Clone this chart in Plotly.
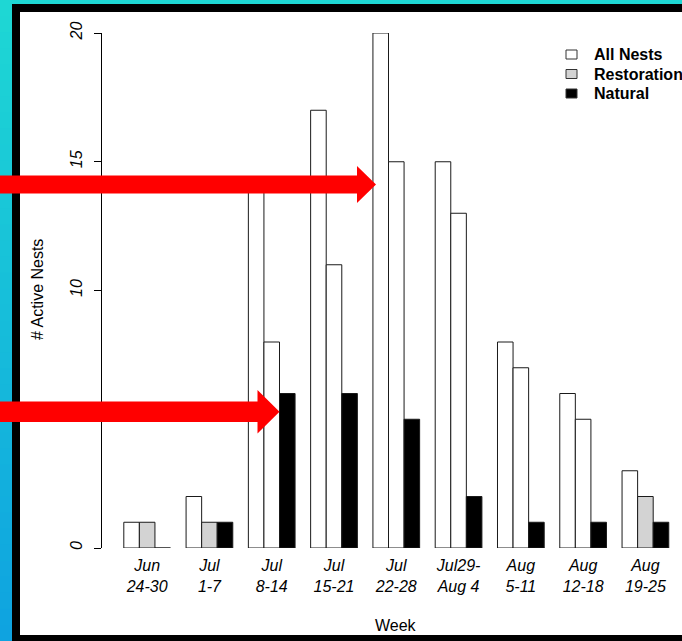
import plotly.graph_objects as go

# ---------------- data ----------------
weeks = ["Jun<br>24-30", "Jul<br>1-7", "Jul<br>8-14", "Jul<br>15-21", "Jul<br>22-28",
         "Jul29-<br>Aug 4", "Aug<br>5-11", "Aug<br>12-18", "Aug<br>19-25"]
all_nests = [1, 2, 14, 17, 20, 15, 8, 6, 3]
restoration = [1, 1, 8, 11, 15, 13, 7, 5, 2]
natural = [0, 1, 6, 6, 5, 2, 1, 1, 1]
series_names = ["All Nests", "Restoration", "Natural"]
y_ticks = [0, 5, 10, 15, 20]

# ---------------- styling / geometry ----------------
FW, FH = 682, 641
L, R, T, B = 102, 682, 33, 548
PW, PH = R - L, B - T
FONT = "Liberation Sans, Arial, Helvetica, sans-serif"


def px(x):
    return (x - L) / PW


def py(y):
    return (B - y) / PH


rest_fill = ["#d3d3d3" if i in (0, 1, 8) else "white" for i in range(len(weeks))]
edge = dict(color="#1a1a1a", width=1)

fig = go.Figure()
fig.add_bar(x=weeks, y=all_nests, name=series_names[0],
            marker=dict(color="white", line=edge))
fig.add_bar(x=weeks, y=restoration, name=series_names[1],
            marker=dict(color=rest_fill, line=edge))
fig.add_bar(x=weeks, y=natural, name=series_names[2],
            marker=dict(color="black", line=edge))

shapes = []
# left gradient strip
n = 40
c0, c1 = (30, 215, 212), (15, 163, 224)
for i in range(n):
    t = i / (n - 1)
    col = "rgb(%d,%d,%d)" % tuple(round(a + (b - a) * t) for a, b in zip(c0, c1))
    y0 = FH * i / n
    y1 = FH * (i + 1) / n + 1
    shapes.append(dict(type="rect", xref="paper", yref="paper", layer="below",
                       x0=px(-5), x1=px(12), y0=py(y0), y1=py(y1),
                       fillcolor=col, line=dict(width=0)))
# black frame and white panel
shapes.append(dict(type="rect", xref="paper", yref="paper", layer="below",
                   x0=px(12), x1=px(700), y0=py(4), y1=py(660),
                   fillcolor="black", line=dict(width=0)))
shapes.append(dict(type="rect", xref="paper", yref="paper", layer="below",
                   x0=px(20), x1=px(700), y0=py(12), y1=py(635),
                   fillcolor="white", line=dict(width=0)))


def arrow(x_end, base, tip, sh_top, sh_bot, hd_top, hd_bot, ymid):
    pts = [(x_end, sh_top), (base, sh_top), (base, hd_top), (tip, ymid),
           (base, hd_bot), (base, sh_bot), (x_end, sh_bot)]
    path = "M " + " L ".join("%f,%f" % (px(a), py(b)) for a, b in pts) + " Z"
    return dict(type="path", xref="paper", yref="paper", path=path,
                fillcolor="#ff0000", line=dict(width=0), layer="above")


shapes.append(arrow(-5, 357, 376, 175.5, 193.5, 166, 203, 184.5))
shapes.append(arrow(-5, 257.5, 279.5, 401.5, 422, 390, 433.5, 411.7))

# manual legend boxes
leg_rows = [54.5, 74, 93.5]
leg_fill = ["white", "#d3d3d3", "black"]
annotations = []
for name, yc, fc in zip(series_names, leg_rows, leg_fill):
    shapes.append(dict(type="rect", xref="paper", yref="paper",
                       x0=px(566), x1=px(577), y0=py(yc - 4.5), y1=py(yc + 4.5),
                       fillcolor=fc, line=dict(color="#333333", width=1)))
    annotations.append(dict(xref="paper", yref="paper", x=px(592), y=py(yc),
                            xanchor="left", yanchor="middle", showarrow=False,
                            text=name, font=dict(family=FONT, size=16, color="black",
                                                 weight="bold")))

annotations.append(dict(xref="paper", yref="paper", x=px(37), y=py(290),
                        xanchor="center", yanchor="middle", showarrow=False,
                        textangle=-90, text="# Active Nests",
                        font=dict(family=FONT, size=16, color="black")))
annotations.append(dict(xref="paper", yref="paper", x=px(396), y=py(625),
                        xanchor="center", yanchor="middle", showarrow=False,
                        text="Week", font=dict(family=FONT, size=16, color="black")))

fig.update_layout(
    width=FW, height=FH,
    margin=dict(l=L, r=FW - R, t=T, b=FH - B, pad=0, autoexpand=False),
    paper_bgcolor="rgb(30,215,212)",
    plot_bgcolor="rgba(0,0,0,0)",
    barmode="group", bargap=0.25, bargroupgap=0,
    showlegend=False,
    shapes=shapes,
    annotations=annotations,
    font=dict(family=FONT, color="black"),
    xaxis=dict(type="category", range=[-0.725, 8.5875], showline=False, ticks="",
               showgrid=False, zeroline=False, automargin=False,
               tickfont=dict(family=FONT, size=16, color="black", style="italic"),
               ticklabelstandoff=6),
    yaxis=dict(range=[0, 20], tickvals=y_ticks, ticks="outside", ticklen=7,
               tickwidth=1, tickcolor="black", showline=True, linecolor="black",
               linewidth=1, showgrid=False, zeroline=False, automargin=False,
               tickangle=-90, ticklabelstandoff=6,
               tickfont=dict(family=FONT, size=16, color="black", style="italic")),
)

fig.write_html(
    "out.html",
    config={"displayModeBar": False},
    post_script="document.body.style.margin='0';document.body.style.overflow='hidden';",
)
